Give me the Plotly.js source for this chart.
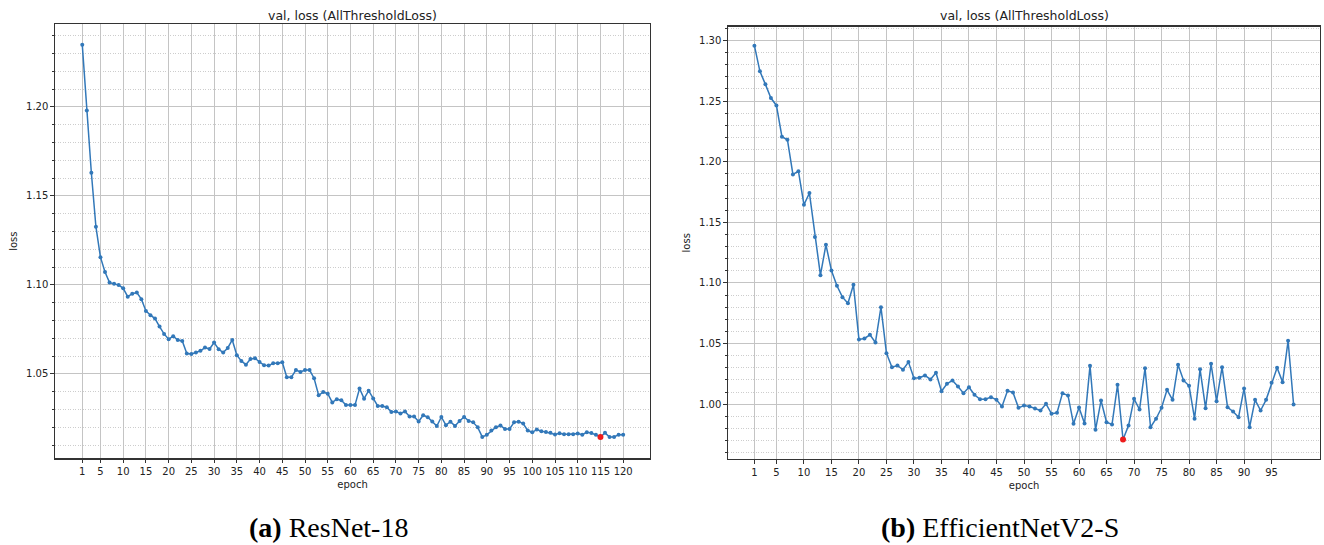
<!DOCTYPE html>
<html>
<head>
<meta charset="utf-8">
<script src="https://cdn.plot.ly/plotly-3.0.1.min.js"></script>
<style>
  html, body { margin: 0; padding: 0; background: #ffffff; }
  #chart { width: 1324px; height: 545px; }
</style>
</head>
<body>
<div id="chart"></div>
<script>
// ---------- data ----------
const chartTitle = "val, loss (AllThresholdLoss)";
const xLabel = "epoch";
const yLabel = "loss";
const captionA = "<b>(a)</b> ResNet-18";
const captionB = "<b>(b)</b> EfficientNetV2-S";

const resnetEpochs = [1,2,3,4,5,6,7,8,9,10,11,12,13,14,15,16,17,18,19,20,
  21,22,23,24,25,26,27,28,29,30,31,32,33,34,35,36,37,38,39,40,
  41,42,43,44,45,46,47,48,49,50,51,52,53,54,55,56,57,58,59,60,
  61,62,63,64,65,66,67,68,69,70,71,72,73,74,75,76,77,78,79,80,
  81,82,83,84,85,86,87,88,89,90,91,92,93,94,95,96,97,98,99,100,
  101,102,103,104,105,106,107,108,109,110,111,112,113,114,115,116,117,118,119,120];
const resnetLoss = [1.2350,1.1980,1.1630,1.1327,1.1156,1.1073,1.1013,1.1006,1.1000,1.0981,
  1.0934,1.0951,1.0957,1.0920,1.0854,1.0830,1.0811,1.0766,1.0725,1.0695,
  1.0712,1.0690,1.0685,1.0615,1.0612,1.0620,1.0630,1.0648,1.0640,1.0676,
  1.0639,1.0620,1.0646,1.0691,1.0605,1.0573,1.0552,1.0584,1.0588,1.0567,
  1.0549,1.0547,1.0560,1.0560,1.0566,1.0481,1.0481,1.0522,1.0511,1.0522,
  1.0522,1.0476,1.0380,1.0398,1.0389,1.0340,1.0358,1.0352,1.0325,1.0325,
  1.0325,1.0418,1.0361,1.0406,1.0362,1.0320,1.0320,1.0313,1.0286,1.0289,
  1.0278,1.0289,1.0261,1.0261,1.0233,1.0268,1.0257,1.0233,1.0207,1.0258,
  1.0212,1.0232,1.0208,1.0236,1.0258,1.0236,1.0228,1.0200,1.0146,1.0158,
  1.0182,1.0201,1.0210,1.0191,1.0191,1.0228,1.0232,1.0221,1.0182,1.0172,
  1.0188,1.0178,1.0174,1.0169,1.0160,1.0167,1.0161,1.0161,1.0161,1.0165,
  1.0159,1.0172,1.0168,1.0159,1.0146,1.0169,1.0146,1.0146,1.0159,1.0159];
const resnetBestEpoch = [115];
const resnetBestLoss = [1.0146];
const resnetTickVals = [1,5,10,15,20,25,30,35,40,45,50,55,60,65,70,75,80,85,90,95,100,105,110,115,120];

const effEpochs = [1,2,3,4,5,6,7,8,9,10,11,12,13,14,15,16,17,18,19,20,
  21,22,23,24,25,26,27,28,29,30,31,32,33,34,35,36,37,38,39,40,
  41,42,43,44,45,46,47,48,49,50,51,52,53,54,55,56,57,58,59,60,
  61,62,63,64,65,66,67,68,69,70,71,72,73,74,75,76,77,78,79,80,
  81,82,83,84,85,86,87,88,89,90,91,92,93,94,95,96,97,98,99];
const effLoss = [1.2957,1.2745,1.2638,1.2525,1.2464,1.2206,1.2181,1.1895,1.1922,1.1645,
  1.1741,1.1378,1.1064,1.1315,1.1103,1.0977,1.0883,1.0833,1.0985,1.0534,
  1.0542,1.0572,1.0509,1.0800,1.0421,1.0305,1.0319,1.0284,1.0347,1.0215,
  1.0218,1.0237,1.0204,1.0259,1.0107,1.0168,1.0196,1.0146,1.0091,1.0140,
  1.0078,1.0041,1.0041,1.0058,1.0036,0.9981,1.0110,1.0097,0.9970,0.9989,
  0.9981,0.9965,0.9948,1.0003,0.9921,0.9929,1.0091,1.0072,0.9838,0.9973,
  0.9840,1.0318,0.9789,1.0030,0.9852,0.9833,1.0160,0.9709,0.9824,1.0044,
  0.9956,1.0297,0.9810,0.9880,0.9970,1.0119,1.0036,1.0325,1.0196,1.0152,
  0.9880,1.0289,0.9967,1.0333,1.0025,1.0305,0.9975,0.9940,0.9893,1.0130,
  0.9810,1.0036,0.9948,1.0036,1.0177,1.0300,1.0182,1.0523,0.9998];
const effBestEpoch = [68];
const effBestLoss = [0.9709];
const effTickVals = [1,5,10,15,20,25,30,35,40,45,50,55,60,65,70,75,80,85,90,95];

// ---------- styles ----------
const W = 1324, H = 545;
const lineColor = '#3278b9';
const font = 'DejaVu Sans, sans-serif';
const frameColor = '#333333';
const gridMajor = '#c4c4c4';
const gridMinor = '#cdcdcd';

function px2x(p) { return p / W; }
function px2y(p) { return 1 - p / H; }

function lineTrace(x, y, xa, ya) {
  return {
    x: x, y: y, xaxis: xa, yaxis: ya, type: 'scatter', mode: 'lines+markers',
    line: { color: lineColor, width: 1.5 },
    marker: { color: lineColor, size: 4 },
    hoverinfo: 'x+y', showlegend: false
  };
}
function bestTrace(x, y, xa, ya) {
  return {
    x: x, y: y, xaxis: xa, yaxis: ya, type: 'scatter', mode: 'markers',
    marker: { color: '#ee1c1c', size: 6 },
    showlegend: false
  };
}

function xAxis(domain, range, ticks, anchor) {
  return {
    domain: domain, range: range, anchor: anchor,
    tickmode: 'array', tickvals: ticks, ticktext: ticks.map(String),
    ticks: 'outside', ticklen: 3.5, tickwidth: 1, tickcolor: frameColor,
    tickfont: { family: font, size: 10, color: '#222' },
    showgrid: true, gridcolor: gridMajor, gridwidth: 1,
    showline: true, linecolor: frameColor, linewidth: 1.2, mirror: true,
    zeroline: false, automargin: false,
    title: { text: xLabel, font: { family: font, size: 10, color: '#222' }, standoff: 5 }
  };
}
function yAxis(domain, range, anchor) {
  return {
    domain: domain, range: range, anchor: anchor,
    tick0: 1.0, dtick: 0.05, tickformat: '.2f',
    ticks: 'outside', ticklen: 3.5, tickwidth: 1, tickcolor: frameColor,
    tickfont: { family: font, size: 10, color: '#222' },
    showgrid: true, gridcolor: gridMajor, gridwidth: 1,
    minor: { tick0: 1.0, dtick: 0.01, showgrid: true, gridcolor: gridMinor, griddash: '1px,1.5px',
             gridwidth: 1, ticks: 'outside', ticklen: 2, tickcolor: frameColor },
    showline: true, linecolor: frameColor, linewidth: 1.2, mirror: true,
    zeroline: false, automargin: false,
    title: { text: yLabel, font: { family: font, size: 10, color: '#222' }, standoff: 6 }
  };
}

const data = [
  lineTrace(resnetEpochs, resnetLoss, 'x', 'y'),
  bestTrace(resnetBestEpoch, resnetBestLoss, 'x', 'y'),
  lineTrace(effEpochs, effLoss, 'x2', 'y2'),
  bestTrace(effBestEpoch, effBestLoss, 'x2', 'y2')
];

const layout = {
  width: W, height: H,
  margin: { l: 0, r: 0, t: 0, b: 0 },
  paper_bgcolor: '#ffffff', plot_bgcolor: '#ffffff',
  font: { family: font, size: 10, color: '#222' },
  xaxis: xAxis([px2x(55), px2x(650)], [-5.0, 125.9], resnetTickVals, 'y'),
  yaxis: yAxis([px2y(458.3), px2y(24)], [1.0026, 1.2466], 'x'),
  xaxis2: xAxis([px2x(728), px2x(1320)], [-3.8, 103.8], effTickVals, 'y2'),
  yaxis2: yAxis([px2y(459), px2y(26.5)], [0.9548, 1.3115], 'x2'),
  annotations: [
    { text: chartTitle, xref: 'paper', yref: 'paper', x: px2x(352.5), y: px2y(15),
      xanchor: 'center', yanchor: 'middle', showarrow: false,
      font: { family: font, size: 12.5, color: '#222' } },
    { text: chartTitle, xref: 'paper', yref: 'paper', x: px2x(1024), y: px2y(15),
      xanchor: 'center', yanchor: 'middle', showarrow: false,
      font: { family: font, size: 12.5, color: '#222' } },
    { text: captionA, xref: 'paper', yref: 'paper', x: px2x(328), y: px2y(527),
      xanchor: 'center', yanchor: 'middle', showarrow: false,
      font: { family: 'Liberation Serif, Times New Roman, serif', size: 28, color: '#000' } },
    { text: captionB, xref: 'paper', yref: 'paper', x: px2x(1000), y: px2y(527),
      xanchor: 'center', yanchor: 'middle', showarrow: false,
      font: { family: 'Liberation Serif, Times New Roman, serif', size: 28, color: '#000' } }
  ]
};

Plotly.newPlot('chart', data, layout, { staticPlot: true, displayModeBar: false });
</script>
</body>
</html>
